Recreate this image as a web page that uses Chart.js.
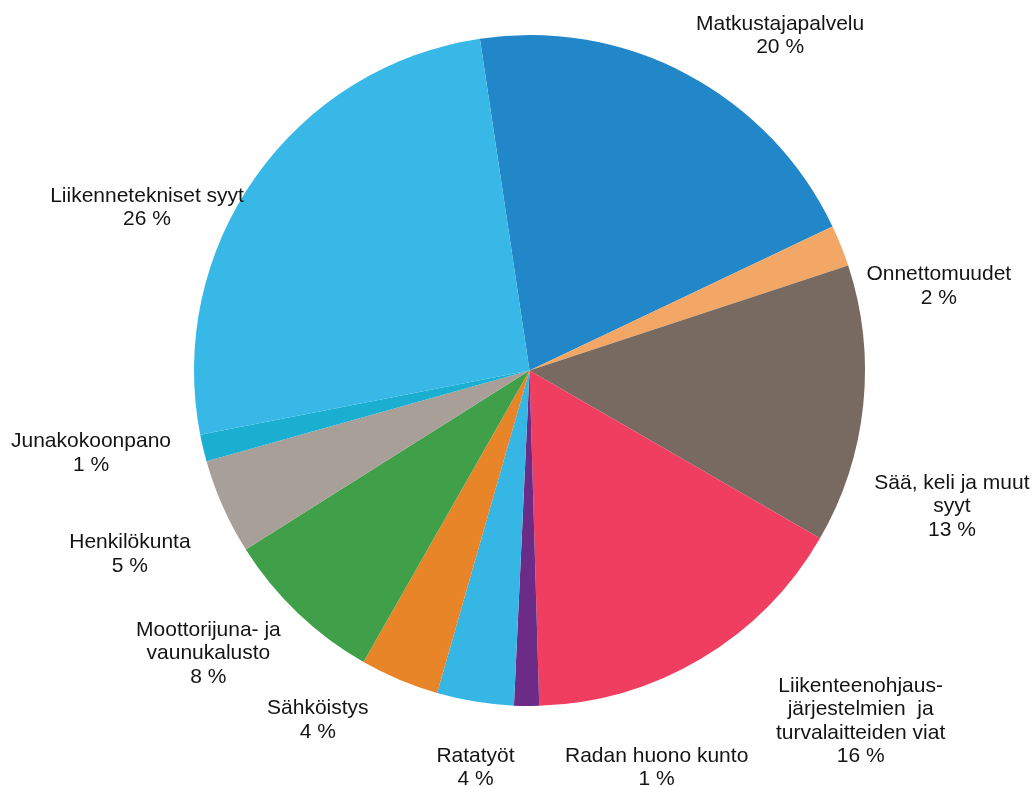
<!DOCTYPE html>
<html>
<head>
<meta charset="utf-8">
<script src="https://cdn.jsdelivr.net/npm/chart.js@4.4.1/dist/chart.umd.min.js"></script>
<style>
  html, body { margin: 0; padding: 0; background: #ffffff; }
  #wrap { width: 1036px; height: 787px; }
</style>
</head>
<body>
<div id="wrap"><canvas id="pie" width="1036" height="787"></canvas></div>
<script>
// Delay causes, clockwise from the top
const categories = [
  ['Matkustajapalvelu'],
  ['Onnettomuudet'],
  ['Sää, keli ja muut', 'syyt'],
  ['Liikenteenohjaus-', 'järjestelmien  ja', 'turvalaitteiden viat'],
  ['Radan huono kunto'],
  ['Ratatyöt'],
  ['Sähköistys'],
  ['Moottorijuna- ja', 'vaunukalusto'],
  ['Henkilökunta'],
  ['Junakokoonpano'],
  ['Liikennetekniset syyt']
];

// Share of delays, percent
const shares = [20.3, 2.0, 13.4, 16.2, 1.2, 3.7, 3.8, 7.8, 4.6, 1.3, 25.7];

const colors = [
  '#2287C9', '#F2A766', '#786A60', '#EF3E5F', '#6C2B86', '#36B6E5',
  '#E88529', '#3FA049', '#A89F98', '#1AAFD0', '#37B8E6'
];

// Where each label block sits, as an offset from the pie centre in units of the radius
const labelPlacement = [
  [0.747, -1.002], [1.220, -0.254], [1.259, 0.402], [0.987, 1.042],
  [0.379, 1.180], [-0.161, 1.180], [-0.631, 1.038], [-0.957, 0.840],
  [-1.191, 0.544], [-1.307, 0.243], [-1.140, -0.489]
];

const FONT_PX = 21;
const LINE_PX = 23.6;

const outsideLabels = {
  id: 'outsideLabels',
  afterDatasetsDraw(chart) {
    const ctx = chart.ctx;
    const meta = chart.getDatasetMeta(0);
    const data = chart.data.datasets[0].data;
    const total = data.reduce((a, b) => a + b, 0);
    ctx.save();
    ctx.font = FONT_PX + 'px "Liberation Sans", Arial, sans-serif';
    ctx.fillStyle = '#141414';
    ctx.textAlign = 'center';
    ctx.textBaseline = 'alphabetic';
    meta.data.forEach((arc, i) => {
      const { x, y, outerRadius } = arc.getProps(['x', 'y', 'outerRadius'], true);
      const [fx, fy] = labelPlacement[i];
      const cx = x + fx * outerRadius;
      const cy = y + fy * outerRadius;
      const pct = Math.round(data[i] / total * 100);
      const lines = categories[i].concat([pct + ' %']);
      const first = cy - (lines.length - 1) * LINE_PX / 2 + 7;
      lines.forEach((t, k) => ctx.fillText(t, cx, first + k * LINE_PX));
    });
    ctx.restore();
  }
};

new Chart(document.getElementById('pie'), {
  type: 'pie',
  data: {
    labels: categories.map(l => l.join(' ')),
    datasets: [{
      data: shares,
      backgroundColor: colors,
      borderWidth: 0,
      hoverOffset: 0
    }]
  },
  options: {
    responsive: false,
    animation: false,
    rotation: -8.5,
    layout: { padding: { top: 35, bottom: 81, left: 194, right: 171 } },
    plugins: {
      legend: { display: false },
      tooltip: { enabled: false }
    }
  },
  plugins: [outsideLabels]
});
</script>
</body>
</html>
